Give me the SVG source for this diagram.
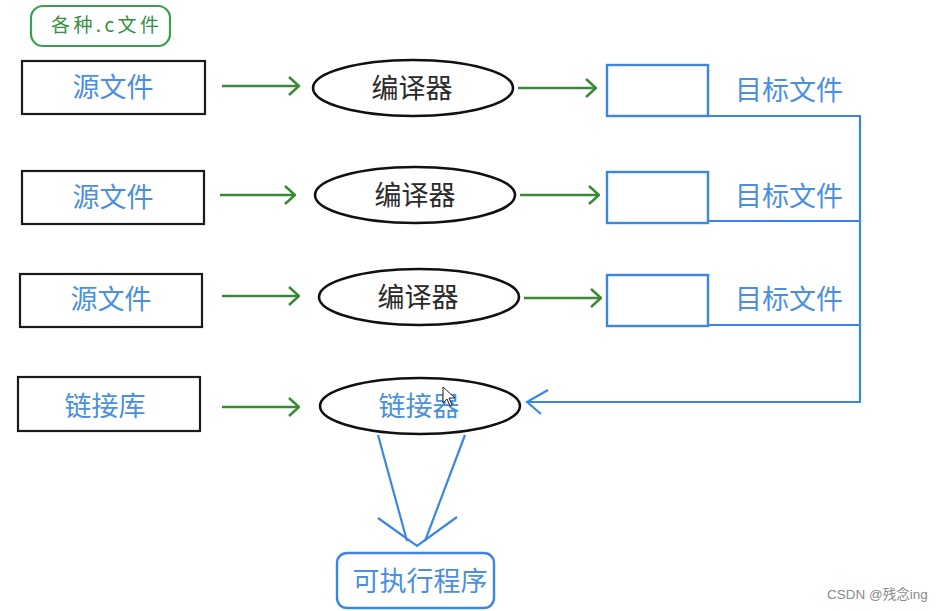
<svg xmlns="http://www.w3.org/2000/svg" width="946" height="611" viewBox="0 0 946 611">
<style>
  .src { fill: #ffffff; stroke: #1a1a1a; stroke-width: 2.2; }
  .ell { fill: #ffffff; stroke: #111111; stroke-width: 2.6; }
  .tgt { fill: #ffffff; stroke: #3b86e3; stroke-width: 2.4; }
  .blue { fill: none; stroke: #3b86e3; stroke-width: 2.2; }
  .green { fill: none; stroke: #3a8a35; stroke-width: 2.5; }
  .tb { font-family: "Noto Sans CJK SC", "Noto Sans", sans-serif; fill: #4a8fe0; font-size: 27px; }
  .tk { font-family: "Noto Sans CJK SC", "Noto Sans", sans-serif; fill: #2a2a2a; font-size: 27px; }
  .tg { font-family: "Noto Sans CJK SC", "Noto Sans", sans-serif; fill: #2f8f3f; font-size: 19px; }
  .wm { font-family: "Liberation Sans", "Noto Sans CJK SC", sans-serif; fill: #8a8a8a; font-size: 13.5px; }
</style>
<defs>
  <marker id="ga" viewBox="0 0 12 20" refX="11" refY="10" markerWidth="12" markerHeight="20" markerUnits="userSpaceOnUse" orient="auto">
    <path d="M1,1 L11,10 L1,19" fill="none" stroke="#3a8a35" stroke-width="2.5"/>
  </marker>
  <marker id="ba" viewBox="0 0 24 28" refX="22" refY="14" markerWidth="24" markerHeight="28" markerUnits="userSpaceOnUse" orient="auto">
    <path d="M8,2 L22,14 L1,26" fill="none" stroke="#3b86e3" stroke-width="2.2"/>
  </marker>
</defs>
<rect width="946" height="611" fill="#ffffff"/>

<g id="label-c-files">
  <rect x="31" y="6" width="139" height="40" rx="12" fill="#ffffff" stroke="#3aa050" stroke-width="2.2"/>
  <text class="tg" x="51" y="32" textLength="108" lengthAdjust="spacing">各种.c文件</text>
</g>

<g id="src1">
  <rect class="src" x="22" y="61" width="183" height="53"/>
  <text class="tb" x="113" y="97" text-anchor="middle">源文件</text>
</g>
<g id="src2">
  <rect class="src" x="22" y="171" width="182" height="53"/>
  <text class="tb" x="113" y="207" text-anchor="middle">源文件</text>
</g>
<g id="src3">
  <rect class="src" x="20" y="274" width="182" height="53"/>
  <text class="tb" x="111" y="309" text-anchor="middle">源文件</text>
</g>
<g id="lib">
  <rect class="src" x="18" y="377" width="182" height="54"/>
  <text class="tb" x="105" y="416" text-anchor="middle">链接库</text>
</g>

<g id="comp1">
  <ellipse class="ell" cx="413" cy="88" rx="100" ry="28"/>
  <text class="tk" x="412" y="98" text-anchor="middle">编译器</text>
</g>
<g id="comp2">
  <ellipse class="ell" cx="415" cy="195" rx="100" ry="28"/>
  <text class="tk" x="415" y="205" text-anchor="middle">编译器</text>
</g>
<g id="comp3">
  <ellipse class="ell" cx="419" cy="297" rx="100" ry="28"/>
  <text class="tk" x="418" y="307" text-anchor="middle">编译器</text>
</g>
<g id="linker">
  <ellipse class="ell" cx="420" cy="406" rx="100" ry="28"/>
  <text class="tb" x="419" y="416" text-anchor="middle">链接器</text>
</g>

<g id="obj1">
  <rect class="tgt" x="607" y="65" width="101" height="51"/>
  <text class="tb" x="789" y="100" text-anchor="middle">目标文件</text>
</g>
<g id="obj2">
  <rect class="tgt" x="607" y="172" width="101" height="51"/>
  <text class="tb" x="789" y="206" text-anchor="middle">目标文件</text>
</g>
<g id="obj3">
  <rect class="tgt" x="607" y="275" width="101" height="51"/>
  <text class="tb" x="789" y="309" text-anchor="middle">目标文件</text>
</g>

<g id="exe">
  <rect x="337" y="553" width="157" height="55" rx="10" fill="#ffffff" stroke="#3b86e3" stroke-width="2.4"/>
  <text x="420" y="591" text-anchor="middle" font-family="&quot;Noto Sans CJK SC&quot;, sans-serif" font-size="27" fill="#4a8fe0">可执行程序</text>
</g>

<g id="connectors">
  <path class="green" d="M222,86 L299,86" marker-end="url(#ga)"/>
  <path class="green" d="M220,195 L295,195" marker-end="url(#ga)"/>
  <path class="green" d="M222,296 L299,296" marker-end="url(#ga)"/>
  <path class="green" d="M222,407 L299,407" marker-end="url(#ga)"/>
  <path class="green" d="M518,88 L596,88" marker-end="url(#ga)"/>
  <path class="green" d="M520,195 L599,195" marker-end="url(#ga)"/>
  <path class="green" d="M524,298 L601,298" marker-end="url(#ga)"/>

  <path class="blue" d="M708,116 L860,116 L860,402 L527,402" marker-end="url(#ba)"/>
  <path class="blue" d="M708,221 L860,221"/>
  <path class="blue" d="M708,325 L860,325"/>

  <path class="blue" d="M378,435 L407,541"/>
  <path class="blue" d="M465,435 L425,541"/>
  <path class="blue" d="M378,518 L417,546 L457,517"/>
</g>

<g id="cursor">
  <path d="M443,387 L443,403 L447,399 L450,406 L452,405 L449,398 L455,398 Z" fill="#ffffff" stroke="#222222" stroke-width="1"/>
</g>

<text class="wm" x="827" y="599">CSDN @残念ing</text>
</svg>
